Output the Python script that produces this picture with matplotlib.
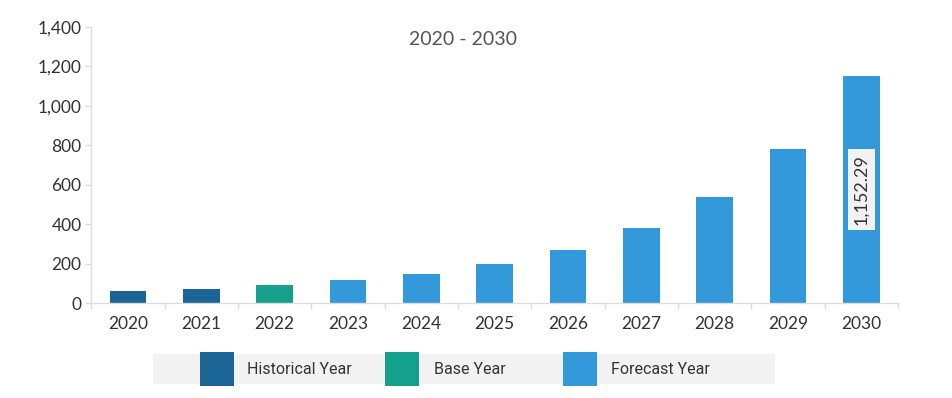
import matplotlib
matplotlib.use("Agg")
import matplotlib.pyplot as plt
from matplotlib.patches import Rectangle
from matplotlib.ticker import FuncFormatter, FixedLocator

years = ["2020", "2021", "2022", "2023", "2024", "2025", "2026", "2027", "2028", "2029", "2030"]
values = [61, 74, 93, 116, 150, 200, 270, 380, 538, 779, 1152.29]
kinds = ["Historical Year", "Historical Year", "Base Year", "Forecast Year", "Forecast Year",
         "Forecast Year", "Forecast Year", "Forecast Year", "Forecast Year", "Forecast Year", "Forecast Year"]
legend_labels = ["Historical Year", "Base Year", "Forecast Year"]
colors = {"Historical Year": "#1b6596", "Base Year": "#14a08a", "Forecast Year": "#3399db"}
title = "2020 - 2030"
label_index = 10

plt.rcParams['font.family'] = ['Lato', 'DejaVu Sans']

W, H = 953, 398
fig = plt.figure(figsize=(W / 100, H / 100), dpi=100)
ax = fig.add_axes([91.3 / W, 1 - 303.3 / H, (898 - 91.3) / W, (303.3 - 26.7) / H])

x = list(range(len(years)))
ax.bar(x, values, width=0.5, color=[colors[k] for k in kinds], zorder=2)

ax.set_xlim(-0.5, len(years) - 0.5)
ax.set_ylim(0, 1400)
ax.set_yticks(range(0, 1401, 200))
ax.yaxis.set_major_formatter(FuncFormatter(lambda v, p: f"{int(v):,}"))
ax.set_xticks(x)
ax.set_xticklabels(years)
ax.xaxis.set_minor_locator(FixedLocator([i - 0.5 for i in range(len(years) + 1)]))

for s in ["top", "right"]:
    ax.spines[s].set_visible(False)
for s in ["left", "bottom"]:
    ax.spines[s].set_color("#dddddd")
    ax.spines[s].set_linewidth(1.0)

ax.tick_params(axis="x", which="major", length=0, pad=9, labelsize=12.5, labelcolor="#333333")
ax.tick_params(axis="x", which="minor", length=4, width=1, color="#dddddd")
ax.tick_params(axis="y", which="major", length=4, width=1, color="#dddddd", pad=3,
               labelsize=12.5, labelcolor="#333333")

ax.text((463 - 91.3) / (898 - 91.3), 0.955, title, transform=ax.transAxes, ha="center", va="center",
        fontsize=14, color="#555555")

v = values[label_index]
ax.text(label_index, v / 2, f"{v:,.2f}", rotation=90, ha="center", va="center",
        fontsize=13, color="#333333", zorder=3,
        bbox=dict(boxstyle="square,pad=0.3", facecolor="#f2f2f2", edgecolor="none"))

# legend band
def fx(px):
    return px / W

def fy(py):
    return 1 - py / H

fig.add_artist(Rectangle((fx(153), fy(384)), fx(775) - fx(153), (384 - 354) / H,
                         transform=fig.transFigure, facecolor="#f2f2f2", edgecolor="none"))
patch_x = [200, 385.5, 563]
text_x = [247, 434, 611]
for lab, px, tx in zip(legend_labels, patch_x, text_x):
    fig.add_artist(Rectangle((fx(px), fy(386)), 34 / W, 34 / H, transform=fig.transFigure,
                             facecolor=colors[lab], edgecolor="none"))
    fig.text(fx(tx), fy(369.5), lab, ha="left", va="center", fontsize=11.5,
             color="#333333", family=["Roboto", "DejaVu Sans"])

fig.savefig("out.png", dpi=100)
